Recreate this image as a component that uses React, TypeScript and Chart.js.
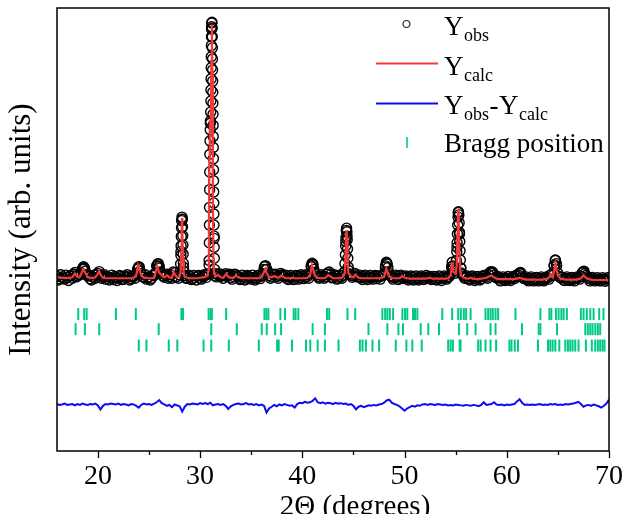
import React, { useEffect, useRef } from 'react';
import { Chart, registerables } from 'chart.js';

Chart.register(...registerables);

// ---------- data (intensity in arbitrary units, 2Θ in degrees) ----------
const GRID_START = 16;
const GRID_STEP = 0.25;
const MID_START = 16.125; // second set of observed points, between the grid points

const obsGrid = [
  39.4, 38.9, 39.3, 38.8, 39.2, 39.5, 39.0, 40.3, 39.5, 39.8, 41.2, 40.6, 39.5, 38.9, 39.3, 39.0,
  40.1, 39.6, 39.4, 38.8, 39.3, 39.1, 38.7, 39.2, 39.0, 39.4, 38.8, 39.1, 39.3, 38.9, 39.4, 40.0,
  41.6, 40.0, 39.2, 38.8, 39.3, 39.0, 39.6, 41.8, 41.3, 40.0, 39.2, 39.9, 39.4, 39.0, 40.2, 39.4,
  39.8, 52.3, 39.6, 39.0, 39.4, 38.9, 39.2, 39.5, 39.0, 39.4, 39.6, 39.9, 74.0, 78.5, 40.0, 39.8,
  39.4, 39.0, 40.0, 39.6, 39.1, 39.4, 39.8, 39.3, 38.9, 39.3, 39.0, 39.4, 38.8, 39.2, 39.0, 39.3,
  39.5, 41.0, 41.0, 39.6, 39.3, 39.7, 39.4, 39.6, 39.8, 39.3, 39.0, 39.3, 39.2, 38.8, 39.4, 39.1,
  39.5, 39.2, 39.4, 40.0, 42.2, 40.2, 39.4, 39.2, 39.5, 39.3, 40.2, 39.8, 39.2, 39.5, 39.0, 39.3,
  39.7, 47.3, 40.8, 39.6, 39.5, 39.8, 39.3, 39.1, 39.4, 39.0, 39.3, 39.1, 39.4, 38.9, 39.3, 39.5,
  39.8, 42.4, 40.1, 39.3, 39.1, 39.4, 39.0, 39.4, 39.0, 39.2, 38.9, 39.2, 38.8, 39.1, 38.9, 39.2,
  39.0, 39.3, 39.4, 39.0, 38.8, 39.1, 38.9, 39.2, 39.0, 39.2, 39.9, 41.2, 40.6, 53.8, 41.3, 39.5,
  39.2, 38.9, 39.3, 39.0, 38.8, 39.1, 38.9, 39.4, 39.3, 39.8, 40.3, 39.7, 39.1, 38.8, 39.0, 38.7,
  39.0, 38.8, 39.1, 38.9, 39.4, 40.1, 39.3, 38.9, 38.7, 39.0, 38.6, 38.9, 38.7, 39.0, 38.6, 38.9,
  39.1, 39.7, 39.6, 43.0, 40.1, 39.1, 38.8, 39.0, 38.6, 38.9, 38.7, 39.0, 39.1, 39.4, 40.4, 39.6,
  39.0, 38.7, 38.9, 38.6, 38.8, 38.5, 38.8, 38.6, 38.9,
];

const obsMid = [
  38.6, 39.8, 39.0, 39.7, 38.5, 39.6, 39.9, 39.3, 39.9, 40.2, 41.4, 39.8, 39.6, 38.6, 39.7, 39.8,
  40.5, 39.0, 39.8, 39.4, 38.6, 39.7, 39.4, 38.5, 39.6, 38.7, 39.5, 39.8, 38.6, 39.5, 39.0, 41.0,
  40.6, 39.3, 39.8, 39.2, 38.6, 39.7, 40.2, 42.2, 40.4, 39.5, 39.8, 39.0, 39.8, 40.4, 39.3, 39.0,
  45.0, 41.5, 39.0, 39.7, 38.7, 39.6, 38.6, 39.6, 38.8, 39.8, 39.2, 42.0, 95.8, 48.0, 39.3, 40.0,
  39.6, 39.7, 39.4, 39.9, 38.8, 39.9, 39.5, 38.7, 39.7, 38.6, 39.6, 39.1, 39.7, 38.6, 39.6, 38.9,
  40.0, 41.8, 40.2, 39.0, 39.9, 39.9, 39.0, 40.1, 39.5, 39.7, 38.7, 39.6, 38.7, 39.6, 38.8, 39.8,
  38.9, 39.8, 39.0, 41.6, 41.0, 39.8, 39.0, 39.8, 39.0, 39.9, 40.4, 39.1, 39.8, 38.8, 39.7, 39.0,
  40.4, 48.5, 39.9, 39.2, 40.1, 39.3, 39.7, 38.7, 39.7, 38.7, 39.6, 38.8, 39.6, 39.5, 38.8, 39.9,
  41.5, 41.4, 39.5, 38.8, 39.7, 38.7, 39.7, 39.0, 39.5, 38.6, 39.5, 38.6, 39.5, 38.6, 39.5, 38.7,
  39.6, 39.0, 38.7, 39.4, 38.6, 39.5, 38.5, 39.5, 38.8, 39.4, 41.6, 40.1, 46.0, 49.0, 39.9, 39.0,
  39.5, 38.6, 39.5, 38.5, 39.4, 38.6, 39.5, 39.7, 39.0, 40.3, 40.1, 39.2, 39.4, 38.4, 39.3, 38.5,
  39.4, 38.5, 39.4, 39.6, 39.7, 40.0, 39.0, 39.3, 38.4, 39.3, 38.4, 39.2, 38.4, 39.3, 38.4, 39.3,
  38.8, 39.9, 41.8, 41.8, 39.4, 39.2, 38.5, 39.3, 38.5, 39.2, 38.4, 39.3, 38.8, 40.2, 40.0, 39.3,
  38.4, 39.2, 38.4, 39.1, 38.4, 39.1, 38.3, 39.1,
];

const calcGrid = [
  39.2, 39.2, 39.1, 39.1, 39.1, 39.1, 39.2, 40.1, 39.3, 39.4, 40.7, 40.3, 39.3, 39.1, 39.1, 39.2,
  40.0, 39.8, 39.1, 39.0, 39.0, 39.0, 39.0, 39.0, 39.0, 39.0, 39.0, 39.0, 39.0, 39.0, 39.1, 39.6,
  41.5, 39.6, 39.1, 39.1, 39.0, 39.0, 39.1, 41.2, 40.2, 39.7, 39.2, 39.7, 39.2, 39.1, 40.0, 39.2,
  39.4, 51.5, 39.3, 39.1, 39.0, 39.0, 39.0, 39.0, 39.1, 39.2, 39.3, 39.6, 72.5, 58.0, 39.4, 39.8,
  39.2, 39.1, 39.8, 39.3, 39.1, 39.1, 39.6, 39.2, 39.0, 39.0, 39.0, 39.0, 39.0, 39.0, 39.0, 39.0,
  39.2, 40.4, 40.2, 39.3, 39.2, 39.5, 39.2, 39.2, 39.5, 39.1, 39.0, 39.0, 39.1, 39.0, 39.0, 39.0,
  39.0, 39.0, 39.1, 39.5, 41.4, 39.5, 39.1, 39.0, 39.0, 39.1, 39.6, 39.4, 39.0, 39.0, 39.0, 39.0,
  39.4, 46.5, 40.2, 39.4, 39.2, 39.6, 39.1, 39.0, 39.0, 39.0, 39.0, 39.0, 39.0, 39.0, 39.0, 39.1,
  39.3, 40.9, 39.4, 39.0, 39.0, 39.0, 39.0, 39.4, 39.1, 39.0, 38.9, 38.9, 38.9, 38.9, 38.9, 38.9,
  38.9, 39.0, 39.1, 38.9, 38.9, 38.9, 38.9, 38.9, 38.9, 39.0, 39.6, 40.5, 40.0, 52.5, 39.7, 39.2,
  39.0, 38.9, 39.1, 38.9, 38.8, 38.8, 38.9, 39.0, 39.1, 39.4, 39.6, 39.2, 38.9, 38.8, 38.8, 38.8,
  38.8, 38.8, 38.8, 38.8, 38.9, 39.1, 38.9, 38.8, 38.7, 38.7, 38.7, 38.7, 38.7, 38.7, 38.7, 38.8,
  38.9, 39.5, 39.2, 42.5, 39.6, 38.9, 38.8, 38.7, 38.7, 38.7, 38.7, 38.7, 38.8, 39.0, 39.6, 39.1,
  38.8, 38.7, 38.6, 38.6, 38.6, 38.6, 38.6, 38.6, 38.7,
];

const diffGrid = [
  10.6, 10.4, 10.5, 10.7, 10.4, 10.5, 10.6, 10.3, 10.6, 10.4, 10.7, 10.5, 10.4, 10.6, 10.5, 10.7,
  10.3, 9.4, 10.2, 10.6, 10.5, 10.7, 10.6, 10.5, 10.7, 10.4, 10.6, 10.5, 10.3, 10.6, 10.5, 10.2,
  9.8, 10.4, 10.7, 10.5, 10.6, 10.4, 10.7, 11.0, 11.5, 10.8, 10.5, 10.2, 10.4, 9.9, 10.5, 10.3,
  10.1, 8.9, 10.0, 10.6, 10.5, 10.7, 10.6, 10.5, 10.8, 10.6, 10.8, 10.6, 10.9, 10.3, 10.5, 10.6,
  10.4, 10.6, 10.2, 9.5, 10.1, 10.4, 10.6, 10.7, 10.5, 10.6, 10.8, 10.5, 10.6, 10.4, 10.6, 10.3,
  10.5, 10.2, 8.7, 9.6, 10.0, 10.4, 10.1, 10.5, 10.3, 10.6, 10.4, 10.2, 10.3, 9.8, 10.6, 10.9,
  10.8, 11.1, 10.9, 11.0, 11.3, 11.9, 11.0, 10.8, 11.0, 10.7, 10.9, 10.8, 10.6, 10.9, 10.7, 10.8,
  10.6, 10.7, 10.4, 10.6, 10.2, 9.4, 10.0, 10.2, 9.9, 10.1, 10.3, 10.2, 10.4, 10.3, 10.5, 10.6,
  10.9, 11.4, 11.6, 10.9, 10.6, 10.4, 10.1, 9.6, 9.1, 9.6, 9.9, 10.2, 10.0, 10.3, 10.2, 10.5,
  10.6, 10.4, 10.6, 10.5, 10.4, 10.6, 10.5, 10.4, 10.5, 10.3, 10.4, 10.3, 10.5, 10.4, 10.3, 10.2,
  10.4, 10.3, 10.2, 10.4, 10.3, 10.1, 10.4, 11.0, 10.4, 10.5, 10.6, 11.0, 10.5, 10.4, 10.5, 10.3,
  10.5, 10.4, 10.5, 10.6, 11.2, 11.7, 10.9, 10.4, 10.5, 10.4, 10.5, 10.4, 10.5, 10.6, 10.4, 10.5,
  10.4, 10.6, 10.5, 10.6, 10.4, 10.5, 10.4, 10.6, 10.5, 10.6, 10.7, 10.9, 11.1, 10.6, 10.0, 10.3,
  10.4, 10.2, 10.5, 10.3, 10.1, 9.8, 10.2, 10.7, 11.6,
];

// densely measured points on the flanks of the stronger reflections
const obsPeakX = [
  18.5, 18.6, 18.7, 23.95, 24.05, 25.8, 25.9, 26.0,
  28.05, 28.09, 28.12, 28.14, 28.16, 28.18, 28.2, 28.23, 28.26, 28.28, 28.3, 28.32, 28.34, 28.36, 28.4,
  30.86, 30.88, 30.9, 30.91, 30.92, 30.93, 30.94, 30.95, 30.97, 30.99, 31.01, 31.03, 31.05, 31.06, 31.07,
  31.08, 31.09, 31.1, 31.11, 31.12, 31.14, 31.16, 31.18, 31.19, 31.2, 31.21, 31.22, 31.23, 31.24, 31.26,
  31.27, 31.28, 31.29, 31.3, 31.31, 31.32, 31.33, 31.34, 31.35, 31.36, 31.37, 31.38, 31.39, 31.41, 31.44,
  36.3, 36.4, 36.5, 40.88, 40.95, 41.05,
  44.12, 44.17, 44.21, 44.24, 44.27, 44.3, 44.33, 44.36, 44.39, 44.42, 44.45, 44.49, 44.55,
  48.15, 48.22, 48.3,
  54.6, 54.66, 54.72, 55.02, 55.07, 55.11, 55.14, 55.17, 55.2, 55.23, 55.27, 55.31, 55.34, 55.37, 55.4,
  55.43, 55.46, 55.5, 55.56,
  58.45, 58.6, 61.25, 61.35, 64.65, 64.75, 64.85, 67.45, 67.55,
];
const obsPeakY = [
  41.0, 41.6, 41.2, 41.3, 41.5, 41.8, 42.3, 41.7,
  40.5, 42.2, 44.2, 46.3, 48.4, 50.4, 52.0, 52.8, 52.3, 50.6, 48.6, 46.5, 44.4, 42.4, 40.5,
  40.0, 43.0, 47.0, 51.0, 55.0, 59.0, 63.0, 67.0, 70.0, 72.5, 74.5, 76.5, 79.0, 81.5, 84.0,
  86.5, 89.0, 91.5, 93.5, 95.2, 96.6, 96.8, 95.5, 93.5, 91.0, 88.5, 86.0, 83.5, 81.0, 76.0,
  73.5, 71.0, 68.5, 66.0, 63.5, 61.0, 58.5, 56.0, 53.5, 51.0, 48.5, 46.0, 43.5, 41.0, 39.5,
  41.6, 41.8, 41.0, 41.8, 42.4, 42.0,
  40.4, 42.3, 44.3, 46.3, 48.2, 49.8, 50.3, 49.5, 47.7, 45.6, 43.5, 41.5, 40.0,
  41.8, 42.6, 42.2,
  41.5, 42.6, 41.8, 41.0, 43.0, 45.0, 47.0, 49.0, 51.0, 52.8, 54.0, 53.3, 51.5, 49.4, 47.3,
  45.2, 43.1, 41.3, 40.2,
  40.5, 40.4, 40.2, 40.3, 42.0, 43.1, 42.3, 40.4, 40.6,
];

const calcPeakX = [
  18.6, 20.13, 23.93, 25.8, 27.41,
  28.1, 28.15, 28.2, 28.23, 28.28, 28.33, 28.4,
  30.82, 30.86, 30.9, 30.95, 31.05, 31.1, 31.15, 31.2, 31.3, 31.35,
  32.55, 36.39, 37.92, 40.94, 42.54,
  44.15, 44.22, 44.28, 44.32, 44.37, 44.42,
  45.17, 48.22, 49.79,
  54.66, 54.72, 55.1, 55.17, 55.21, 55.28, 55.32, 55.38, 55.45,
  58.5, 64.26, 64.7, 64.76, 64.82, 67.5,
];
const calcPeakY = [
  41.1, 40.6, 41.9, 41.7, 40.4,
  40.5, 45.0, 51.6, 52.6, 49.5, 43.5, 40.0,
  41.0, 50.0, 66.0, 73.0, 75.0, 88.0, 96.3, 85.0, 43.0, 40.2,
  40.0, 41.1, 39.6, 41.9, 39.7,
  40.2, 44.0, 48.8, 49.8, 48.2, 43.5,
  39.8, 41.1, 39.5,
  42.6, 40.6, 42.0, 49.0, 54.2, 54.4, 50.0, 44.0, 40.5,
  39.6, 39.8, 41.5, 43.0, 41.3, 39.6,
];

const braggRow1 = [
  18.08, 18.66, 18.9, 21.76, 23.71, 28.17, 28.33, 30.83, 31.02, 31.15, 32.55, 36.29, 36.48, 36.68,
  37.85, 38.3, 39.15, 39.34, 39.61, 42.41, 42.63, 44.42, 45.17, 47.83, 48.1, 48.32, 48.56, 48.88,
  49.79, 50.05, 50.27, 50.83, 51.02, 51.25, 53.69, 54.66, 55.25, 55.51, 55.8, 56.03, 56.46, 57.92,
  58.18, 58.41, 58.63, 58.9, 59.15, 60.85, 63.29, 64.17, 64.36, 64.81, 65.07, 65.34, 65.56, 65.88,
  67.25, 67.51, 67.83, 68.17, 68.49, 69.04, 69.46,
];
const braggRow2 = [
  17.82, 18.73, 20.13, 25.95, 31.09, 33.59, 36.03, 36.52, 37.34, 37.92, 41.01, 42.21, 46.47, 48.32,
  49.4, 49.85, 51.58, 52.32, 53.37, 55.32, 56.13, 56.95, 58.41, 58.9, 61.49, 63.12, 63.29, 64.91,
  67.68, 67.93, 68.17, 68.39, 68.66, 68.91, 69.14,
];
const braggRow3 = [
  24.0, 24.75, 26.93, 27.77, 30.34, 31.09, 32.81, 35.74, 37.53, 37.69, 38.99, 40.36, 40.78, 41.5,
  42.21, 43.54, 45.63, 45.89, 46.22, 46.86, 47.51, 49.14, 50.18, 50.76, 51.68, 54.27, 54.51, 54.73,
  55.39, 55.48, 57.2, 57.44, 57.92, 58.41, 58.96, 60.26, 60.46, 60.78, 61.1, 63.05, 64.03, 64.26,
  64.49, 64.75, 65.14, 65.73, 65.98, 66.21, 66.44, 66.7, 67.02, 67.74, 68.32, 68.65, 68.91, 69.14,
  69.37, 69.56,
];
const braggLevels = [30.9, 27.5, 23.8];

const xMajorTicks = [20, 30, 40, 50, 60, 70];
const xMinorTicks = [25, 35, 45, 55, 65];
const X_MIN = 16;
const X_MAX = 70;
const Y_MIN = 0;
const Y_MAX = 100;

const xTitle = '2Θ (degrees)';
const yTitle = 'Intensity (arb. units)';

// ---------- styles ----------
const FONT = '"Liberation Serif", "Times New Roman", serif';
const RED = 'rgb(242,58,58)';
const BLUE = 'rgb(12,12,245)';
const GREEN = 'rgb(0,200,135)';

const W = 624;
const H = 514;

const decorPlugin = {
  id: 'decor',
  afterDraw(chart: any) {
    const { ctx, chartArea: a, scales } = chart;
    const x = scales.x;
    ctx.save();
    // frame
    ctx.strokeStyle = '#000';
    ctx.lineWidth = 1.5;
    ctx.strokeRect(a.left, a.top, a.right - a.left, a.bottom - a.top);
    // ticks
    ctx.lineWidth = 1.3;
    xMajorTicks.forEach((v) => {
      const px = Math.round(x.getPixelForValue(v)) + 0.5;
      ctx.beginPath();
      ctx.moveTo(px, a.bottom);
      ctx.lineTo(px, a.bottom + 7);
      ctx.stroke();
    });
    xMinorTicks.forEach((v) => {
      const px = Math.round(x.getPixelForValue(v)) + 0.5;
      ctx.beginPath();
      ctx.moveTo(px, a.bottom);
      ctx.lineTo(px, a.bottom + 4);
      ctx.stroke();
    });
    // axis titles
    ctx.fillStyle = '#000';
    ctx.textBaseline = 'alphabetic';
    ctx.textAlign = 'center';
    ctx.font = `29px ${FONT}`;
    ctx.fillText(xTitle, 355, 515);
    ctx.save();
    ctx.translate(30, (a.top + a.bottom) / 2);
    ctx.rotate(-Math.PI / 2);
    ctx.font = `31px ${FONT}`;
    ctx.fillText(yTitle, 0, 0);
    ctx.restore();

    // legend
    ctx.textAlign = 'left';
    const drawRich = (x0: number, y0: number, parts: [string, boolean][]) => {
      let cx = x0;
      parts.forEach(([t, sub]) => {
        ctx.font = sub ? `18px ${FONT}` : `27px ${FONT}`;
        ctx.fillText(t, cx, sub ? y0 + 6 : y0);
        cx += ctx.measureText(t).width + 0.5;
      });
    };
    // Y_obs
    ctx.strokeStyle = '#000';
    ctx.lineWidth = 1;
    ctx.beginPath();
    ctx.arc(406.5, 24, 3.6, 0, Math.PI * 2);
    ctx.stroke();
    drawRich(444, 34.5, [['Y', false], ['obs', true]]);
    // Y_calc
    ctx.strokeStyle = RED;
    ctx.lineWidth = 2;
    ctx.beginPath();
    ctx.moveTo(376, 63.5);
    ctx.lineTo(438, 63.5);
    ctx.stroke();
    drawRich(444, 74.5, [['Y', false], ['calc', true]]);
    // difference
    ctx.strokeStyle = BLUE;
    ctx.beginPath();
    ctx.moveTo(376, 103.5);
    ctx.lineTo(438, 103.5);
    ctx.stroke();
    drawRich(444, 113.5, [['Y', false], ['obs', true], ['-', false], ['Y', false], ['calc', true]]);
    // Bragg
    ctx.strokeStyle = GREEN;
    ctx.lineWidth = 1.6;
    ctx.beginPath();
    ctx.moveTo(407, 137);
    ctx.lineTo(407, 148);
    ctx.stroke();
    ctx.fillStyle = '#000';
    ctx.font = `27px ${FONT}`;
    ctx.fillText('Bragg position', 444, 152);
    ctx.restore();
  },
};

export default function App() {
  const ref = useRef<HTMLCanvasElement | null>(null);

  useEffect(() => {
    if (!ref.current) return;
    const gridX = obsGrid.map((_, i) => GRID_START + i * GRID_STEP);
    const midX = obsMid.map((_, i) => MID_START + i * GRID_STEP);
    const obsData = gridX
      .map((x, i) => ({ x, y: obsGrid[i] }))
      .concat(midX.map((x, i) => ({ x, y: obsMid[i] })))
      .concat(obsPeakX.map((x, i) => ({ x, y: obsPeakY[i] })));
    const calcData = gridX
      .map((x, i) => ({ x, y: calcGrid[i] }))
      .concat(calcPeakX.map((x, i) => ({ x, y: calcPeakY[i] })))
      .sort((p, q) => p.x - q.x);
    const diffData = gridX.map((x, i) => ({ x, y: diffGrid[i] }));
    const braggSets = [braggRow1, braggRow2, braggRow3].map((row, k) => ({
      label: `Bragg ${k + 1}`,
      data: row.map((x) => ({ x, y: braggLevels[k] })),
      pointStyle: 'line',
      rotation: 90,
      pointRadius: 6,
      borderColor: GREEN,
      backgroundColor: GREEN,
      pointBorderWidth: 2,
      borderWidth: 2,
      showLine: false,
      order: 1,
    }));

    const chart = new Chart(ref.current, {
      type: 'scatter',
      data: {
        datasets: [
          {
            label: 'Yobs',
            data: obsData,
            pointStyle: 'circle',
            pointRadius: 5,
            pointBorderWidth: 1.4,
            borderColor: '#000',
            backgroundColor: 'rgba(0,0,0,0)',
            showLine: false,
            order: 10,
          },
          {
            label: 'Ycalc',
            data: calcData,
            showLine: true,
            pointRadius: 0,
            borderColor: RED,
            borderWidth: 2.2,
            tension: 0,
            order: 5,
          },
          {
            label: 'Yobs-Ycalc',
            data: diffData,
            showLine: true,
            pointRadius: 0,
            borderColor: BLUE,
            borderWidth: 2,
            tension: 0,
            order: 4,
          },
          ...(braggSets as any[]),
        ],
      },
      options: {
        responsive: false,
        animation: false,
        events: [],
        layout: { padding: { left: 57, top: 7, right: 15, bottom: 0 } },
        plugins: { legend: { display: false }, tooltip: { enabled: false } },
        scales: {
          x: {
            type: 'linear',
            min: X_MIN,
            max: X_MAX,
            afterBuildTicks: (s: any) => {
              s.ticks = xMajorTicks.map((value) => ({ value }));
            },
            afterFit: (s: any) => {
              s.height = H - 451;
              s.paddingLeft = 0;
              s.paddingRight = 0;
            },
            grid: { display: true, drawOnChartArea: false, drawTicks: false },
            border: { display: false },
            ticks: {
              padding: 9,
              color: '#000',
              font: { family: FONT, size: 28 },
              callback: (v: any) => String(v),
              maxRotation: 0,
            },
          },
          y: {
            type: 'linear',
            display: false,
            min: Y_MIN,
            max: Y_MAX,
          },
        },
      },
      plugins: [decorPlugin],
    } as any);
    return () => chart.destroy();
  }, []);

  return (
    <div style={{ position: 'absolute', left: 0, top: 0, width: W, height: H, background: '#fff' }}>
      <canvas ref={ref} width={W} height={H} style={{ width: W, height: H, display: 'block' }} />
    </div>
  );
}
